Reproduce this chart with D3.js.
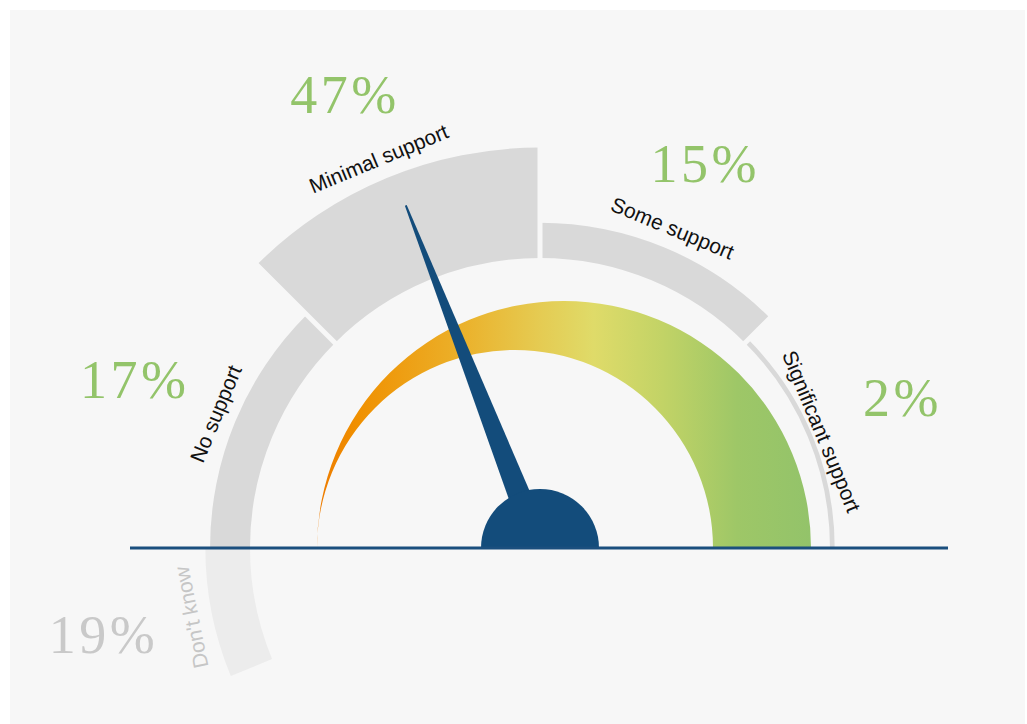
<!DOCTYPE html>
<html><head><meta charset="utf-8">
<script src="https://cdn.jsdelivr.net/npm/d3@7"></script>
<style>
html,body{margin:0;padding:0;background:#fff;}
svg{display:block;}
</style></head><body>
<svg id="chart" width="1027" height="724"></svg>
<script>
// ---- data ----
const categories = ["No support", "Minimal support", "Some support", "Significant support"];
const values = [17, 47, 15, 2];
const scoreLevels = [0, 1, 2, 3];
const percentLabels = ["17%", "47%", "15%", "2%"];
const dkCategory = "Don't know";
const dkValue = 19;
const dkPercentLabel = "19%";

// ---- layout ----
const W = 1027, H = 724;
const cx = 540, cy = 548;
const svg = d3.select("#chart");
svg.append("rect").attr("x", 10).attr("y", 10).attr("width", W - 12).attr("height", H - 10).attr("fill", "#f7f7f7");
const g = svg.append("g").attr("transform", `translate(${cx},${cy})`);

const deg = Math.PI / 180;
const angle = d3.scaleBand().domain(categories).range([-Math.PI / 2, Math.PI / 2]);
const thick = d3.scaleLinear().domain([0, 100]).range([0, 235]);
const r0 = 290;
const arc = d3.arc();

const segs = categories.map((c, i) => ({
  cat: c, value: values[i], pct: percentLabels[i], level: scoreLevels[i],
  start: angle(c), end: angle(c) + angle.bandwidth(), fill: "#d9d9d9", text: "#111"
}));
const dkSpan = angle.bandwidth() / 2;
const dkSeg = { cat: dkCategory, value: dkValue, pct: dkPercentLabel,
  start: -Math.PI / 2 - dkSpan, end: -Math.PI / 2, fill: "#ececec", text: "#c6c6c6", dk: true };
const allSegs = [dkSeg, ...segs];

g.selectAll("path.seg").data(allSegs).join("path")
  .attr("class", "seg")
  .attr("fill", d => d.fill)
  .attr("d", d => arc({ innerRadius: r0, outerRadius: r0 + thick(d.value), startAngle: d.start, endAngle: d.end }));

// gaps between neighbouring segments
g.selectAll("line.gap").data(segs.slice(1)).join("line")
  .attr("class", "gap")
  .attr("x1", d => (r0 - 8) * Math.sin(d.start)).attr("y1", d => -(r0 - 8) * Math.cos(d.start))
  .attr("x2", d => 420 * Math.sin(d.start)).attr("y2", d => -420 * Math.cos(d.start))
  .attr("stroke", "#f7f7f7").attr("stroke-width", 5);

// colour band (tapered)
const defs = svg.append("defs");
const grad = defs.append("linearGradient").attr("id", "band")
  .attr("gradientUnits", "userSpaceOnUse").attr("x1", -223).attr("x2", 271).attr("y1", 0).attr("y2", 0);
[[0, "#ed7a00"], [0.08, "#f09000"], [0.3, "#ebb22c"], [0.45, "#e5cb52"], [0.56, "#dfdb69"],
 [0.7, "#c2d366"], [0.85, "#9ec767"], [1, "#93c36a"]]
  .forEach(([o, c]) => grad.append("stop").attr("offset", o).attr("stop-color", c));
defs.append("clipPath").attr("id", "above").append("rect")
  .attr("x", -500).attr("y", -500).attr("width", 1000).attr("height", 500);
const band = d3.path();
band.moveTo(-223, 0);
band.arc(24, 0, 247, Math.PI, 2 * Math.PI, false);
band.lineTo(173, 0);
band.arc(-25, 0, 198, 0, -Math.PI, true);
band.closePath();
g.append("path").attr("d", band.toString()).attr("fill", "url(#band)");

// needle at the weighted mean score
const meanScore = d3.sum(values, (v, i) => v * scoreLevels[i]) / d3.sum(values);
const needleScale = d3.scaleLinear().domain([0, 3])
  .range([angle(categories[0]) + angle.bandwidth() / 2, angle(categories[3]) + angle.bandwidth() / 2]);
const needleA = needleScale(meanScore);
const needleLen = 368;
g.append("g").attr("clip-path", "url(#above)")
  .append("path")
  .attr("d", d3.line()([[-13, 0], [-1, -needleLen], [1, -needleLen], [13, 0]]) + "Z")
  .attr("transform", `rotate(${needleA / deg})`)
  .attr("fill", "#134c7b");

g.append("path")
  .attr("d", d3.arc()({ innerRadius: 0, outerRadius: 59, startAngle: -Math.PI / 2, endAngle: Math.PI / 2 }))
  .attr("fill", "#134c7b");

g.append("line").attr("x1", -410).attr("x2", 408).attr("y1", 0).attr("y2", 0)
  .attr("stroke", "#1b4f7e").attr("stroke-width", 3);

// category labels along the arcs
const labelR = d => r0 + thick(d.value) + (d.value < 5 ? 10 : 21);
g.selectAll("text.cat").data(allSegs).join("text")
  .attr("class", "cat")
  .attr("transform", d => {
    const a = (d.start + d.end) / 2, r = labelR(d);
    return `translate(${r * Math.sin(a)},${-r * Math.cos(a)}) rotate(${a / deg})`;
  })
  .attr("text-anchor", "middle").attr("dy", "0.35em")
  .attr("font-family", "'Liberation Sans', Arial, sans-serif").attr("font-size", 21)
  .attr("fill", d => d.text)
  .text(d => d.cat);

// percentage labels
const pctPos = d => {
  const a0 = (d.start + d.end) / 2;
  const a = Math.abs(a0) < Math.PI / 4 ? a0 + Math.sign(a0) * 0.8 * deg : a0;
  const r = labelR(d) + 60 + 30 * Math.abs(Math.sin(a0));
  return [r * Math.sin(a), -r * Math.cos(a)];
};
g.selectAll("text.pct").data(allSegs).join("text")
  .attr("class", "pct")
  .attr("x", d => pctPos(d)[0])
  .attr("y", d => pctPos(d)[1])
  .attr("text-anchor", "middle").attr("dy", "0.33em")
  .attr("font-family", "'Liberation Serif', 'Times New Roman', serif").attr("font-size", 54)
  .attr("letter-spacing", 3.5)
  .attr("fill", d => d.dk ? "#c9c9c9" : "#93c46a")
  .text(d => d.pct);
</script>
</body></html>
